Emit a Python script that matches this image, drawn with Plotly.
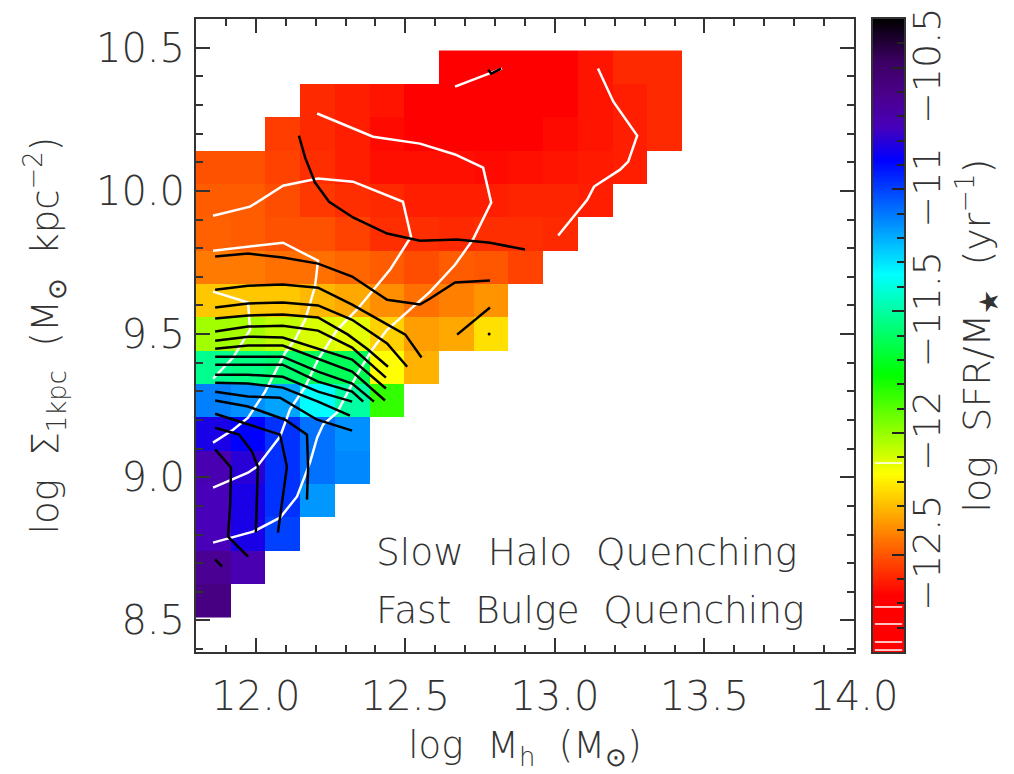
import numpy as np
import plotly.graph_objects as go

N = None
halo_mass = [11.858,11.974,12.09,12.206,12.322,12.438,12.554,12.67,12.786,12.902,13.018,13.134,13.25,13.366]
sigma_1kpc = [8.568,8.685,8.801,8.918,9.034,9.151,9.267,9.384,9.5,9.617,9.733,9.85,9.966,10.083,10.199,10.316,10.432]
ssfr = [
 [-10.58,N,N,N,N,N,N,N,N,N,N,N,N,N],
 [-10.63,-10.72,N,N,N,N,N,N,N,N,N,N,N,N],
 [-10.74,-10.83,-11.0,N,N,N,N,N,N,N,N,N,N,N],
 [-10.74,-10.83,-10.97,-11.16,N,N,N,N,N,N,N,N,N,N],
 [-10.72,-10.80,-10.97,-11.09,-11.13,N,N,N,N,N,N,N,N,N],
 [-10.83,-10.88,-10.97,-11.09,-11.145,N,N,N,N,N,N,N,N,N],
 [-11.115,-11.145,-11.18,-11.35,-11.50,-11.84,N,N,N,N,N,N,N,N],
 [-11.53,-11.55,-11.58,-11.61,-11.62,-12.17,-12.32,N,N,N,N,N,N,N],
 [-12.02,-12.03,-12.07,-12.11,-12.13,-12.26,-12.36,-12.34,-12.23,N,N,N,N,N],
 [-12.28,-12.28,-12.28,-12.31,-12.34,-12.39,-12.45,-12.42,-12.38,N,N,N,N,N],
 [-12.43,-12.43,-12.45,-12.45,-12.47,-12.49,-12.52,-12.49,-12.50,-12.54,N,N,N,N],
 [-12.48,-12.49,-12.51,-12.51,-12.54,-12.58,-12.58,-12.59,-12.58,-12.58,-12.59,N,N,N],
 [-12.49,-12.49,-12.52,-12.56,-12.58,-12.59,-12.61,-12.61,-12.61,-12.60,-12.60,-12.61,N,N],
 [-12.51,-12.51,-12.54,-12.58,-12.61,-12.64,-12.64,-12.64,-12.65,-12.64,-12.63,-12.62,-12.61,N],
 [N,N,-12.55,-12.59,-12.61,-12.65,-12.70,-12.70,-12.70,-12.70,-12.65,-12.63,-12.61,-12.59],
 [N,N,N,-12.59,-12.61,-12.63,-12.70,-12.70,-12.70,-12.70,-12.70,-12.63,-12.61,-12.59],
 [N,N,N,N,N,N,N,-12.70,-12.70,-12.70,-12.70,-12.63,-12.59,-12.59],
]

white_contours = [
 ([12.666,12.823],[10.364,10.427]),
 ([13.144,13.195,13.275,13.245,13.218,13.131,13.108,13.011],[10.427,10.312,10.193,10.102,10.074,10.015,9.969,9.844]),
 ([12.205,12.392,12.549,12.666,12.76,12.787,12.726,12.666,12.583,12.439,12.389,12.338,12.272,12.225,12.205,12.181,12.138,12.081,11.991,11.914,11.857],
  [10.27,10.189,10.165,10.127,10.081,9.959,9.83,9.742,9.648,9.515,9.446,9.358,9.226,9.184,9.138,9.051,8.933,8.859,8.81,8.789,8.772]),
 ([11.857,11.981,12.091,12.208,12.325,12.492,12.519,12.449,12.338,12.272,12.208,12.165,12.114,12.081,12.004,11.974,11.857],
  [9.913,9.945,10.018,10.043,10.032,9.962,9.84,9.725,9.585,9.515,9.411,9.316,9.236,9.142,9.037,9.016,8.964]),
 ([11.857,12.091,12.208,12.198,12.165,12.131,12.098,12.031,11.974,11.924,11.857],
  [9.791,9.819,9.756,9.666,9.55,9.481,9.435,9.299,9.208,9.166,9.121]),
 ([11.857,11.974,11.981,11.924,11.857],[9.648,9.61,9.515,9.418,9.344]),
]

black_contours = [
 ([12.777,12.787,12.82],[10.423,10.409,10.427]),
 ([12.144,12.165,12.198,12.245,12.325,12.439,12.549,12.673,12.783,12.9],[10.193,10.116,10.029,9.962,9.907,9.851,9.826,9.83,9.819,9.795]),
 ([11.864,11.974,12.09,12.208,12.322,12.439,12.549,12.583,12.666,12.783],[9.771,9.781,9.767,9.746,9.701,9.62,9.603,9.624,9.68,9.687]),
 ([12.673,12.783],[9.498,9.593]),
 ([11.864,11.974,12.09,12.208,12.322,12.439,12.5,12.554],[9.655,9.669,9.673,9.662,9.603,9.533,9.498,9.418]),
 ([11.864,11.974,12.09,12.208,12.322,12.439,12.506],[9.593,9.607,9.61,9.6,9.55,9.467,9.386]),
 ([11.864,11.974,12.09,12.208,12.308,12.375,12.442],[9.554,9.565,9.568,9.558,9.498,9.446,9.386]),
 ([11.864,11.974,12.09,12.208,12.322,12.435],[9.509,9.526,9.529,9.512,9.453,9.348]),
 ([11.864,11.974,12.09,12.208,12.322,12.435],[9.477,9.491,9.488,9.449,9.411,9.310]),
 ([11.864,11.974,12.09,12.208,12.322,12.432],[9.449,9.46,9.46,9.414,9.369,9.268]),
 ([11.864,11.974,12.09,12.208,12.322,12.395],[9.421,9.421,9.421,9.369,9.327,9.264]),
 ([11.864,11.974,12.09,12.208,12.322,12.359],[9.393,9.393,9.393,9.334,9.299,9.264]),
 ([11.864,11.974,12.09,12.208,12.322],[9.358,9.358,9.351,9.299,9.264]),
 ([11.864,11.974,12.09,12.208,12.315],[9.330,9.327,9.313,9.264,9.215]),
 ([11.864,11.974,12.081,12.138,12.205,12.322],[9.299,9.282,9.278,9.243,9.201,9.163]),
 ([11.864,11.974,12.098,12.171,12.175,12.171],[9.268,9.247,9.201,9.149,9.037,8.922]),
 ([11.864,11.974,12.081,12.104,12.074],[9.222,9.184,9.149,9.037,8.807]),
 ([11.864,11.944,11.987,12.007,12.0],[9.173,9.149,9.09,9.037,8.807]),
 ([11.864,11.917,11.914,11.907,11.974],[9.097,9.034,8.898,8.793,8.723]),
 ([11.864,11.887],[8.713,8.688]),
]
black_dot = ([12.78],[9.50])

colorbar_white_marks = [-12.124,-12.715,-12.785,-12.859,-12.892]
colorbar_ticks = [-12.5,-12.0,-11.5,-11.0,-10.5]
colorbar_labels = ["\u221212.5\u2009","\u221212\u2009","\u221211.5\u2009","\u221211\u2009","\u221210.5\u2009"]

ZMIN, ZMAX = -12.9, -10.3
stops = [(-12.9,"#ff0000"),(-12.67,"#ff0000"),(-12.17,"#ffff00"),(-11.76,"#00ff00"),(-11.35,"#00ffff"),
         (-10.88,"#0000ff"),(-10.74,"#4800b8"),(-10.6,"#4b0088"),(-10.47,"#3a0060"),(-10.3,"#000000")]
colorscale = [[(v-ZMIN)/(ZMAX-ZMIN),c] for v,c in stops]
cbar_ramp = np.arange(ZMIN, ZMAX+0.001, 0.01)

W, H = 1014, 774
FONT = "DejaVu Sans ExtraLight, DejaVu Sans Light, Open Sans"
INK = "#333333"
FRAME = "#333333"
tf = dict(family=FONT, size=40, color=INK, weight=300)
title_font = dict(family=FONT, size=37, color=INK, weight=300)

fig = go.Figure()
fig.add_trace(go.Heatmap(x=halo_mass, y=sigma_1kpc, z=ssfr, colorscale=colorscale, zmin=ZMIN, zmax=ZMAX,
                         showscale=False, zsmooth=False, hoverongaps=False))
for xs, ys in white_contours:
    fig.add_trace(go.Scatter(x=xs, y=ys, mode="lines", line=dict(color="white", width=2.5), showlegend=False))
for xs, ys in black_contours:
    fig.add_trace(go.Scatter(x=xs, y=ys, mode="lines", line=dict(color="black", width=2.5), showlegend=False))
fig.add_trace(go.Scatter(x=black_dot[0], y=black_dot[1], mode="markers", marker=dict(color="black", size=3), showlegend=False))

fig.add_trace(go.Heatmap(x=[0.5], y=cbar_ramp, z=[[v] for v in cbar_ramp], colorscale=colorscale, zmin=ZMIN, zmax=ZMAX,
                         showscale=False, xaxis="x2", yaxis="y2", zsmooth=False))
for v in colorbar_white_marks:
    fig.add_trace(go.Scatter(x=[0.06,0.94], y=[v,v], mode="lines", xaxis="x2", yaxis="y2",
                             line=dict(color="white", width=1.5), showlegend=False))

common = dict(ticks="inside", ticklen=14, tickwidth=2, tickcolor=FRAME, showline=True, linecolor=FRAME, linewidth=2,
              mirror="allticks", showgrid=False, zeroline=False, tickfont=tf, tickformat=".1f", dtick=0.5, automargin=False,
              minor=dict(ticks="inside", ticklen=7, tickwidth=2, tickcolor=FRAME, dtick=0.1, showgrid=False))
fig.update_layout(
    width=W, height=H, margin=dict(l=0,r=0,t=0,b=0), paper_bgcolor="white", plot_bgcolor="white",
    showlegend=False, font=dict(family=FONT, color=INK),
    xaxis=dict(domain=[196/W,854/W], range=[11.8,14.0], tick0=12.0, ticklabelstandoff=8,
               title=dict(text="log  M<sub>h</sub>  (M<sub>\u2299</sub>)", font=title_font, standoff=14), **common),
    yaxis=dict(domain=[1-652/H,1-19/H], range=[8.39,10.6], tick0=8.5, ticklabelstandoff=1,
               title=dict(text="log  \u03a3<sub>1kpc</sub>  (M<sub>\u2299</sub>  kpc<sup>\u22122</sup>)", font=title_font, standoff=26), **common),
    xaxis2=dict(domain=[873/W,904/W], range=[0,1], anchor="y2", showticklabels=False, ticks="", showline=True,
                linecolor=FRAME, linewidth=2, mirror=True, showgrid=False, zeroline=False, automargin=False),
    yaxis2=dict(domain=[1-652/H,1-19/H], range=[ZMIN,ZMAX], anchor="x2", side="right", tickmode="array",
                tickvals=colorbar_ticks, ticktext=colorbar_labels, tickangle=-90, ticks="inside", ticklen=12, tickwidth=2,
                tickcolor="#222222", showline=True, linecolor=FRAME, linewidth=2, mirror=True, showgrid=False, zeroline=False,
                tickfont=dict(family=FONT, size=38, color=INK, weight=300), ticklabelstandoff=-12, ticklabeloverflow="allow", automargin=False,
                minor=dict(ticks="inside", ticklen=7, tickwidth=2, tickcolor="#222222", tickvals=[round(-12.8+0.1*k,1) for k in range(25)], showgrid=False),
                title=dict(text="log  SFR/M<sub>\u2605</sub>  (yr<sup>\u22121</sup>)", font=dict(family=FONT,size=38,color=INK,weight=300), standoff=10)),
    annotations=[
        dict(x=374/W, y=1-552/H, xref="paper", yref="paper", xanchor="left", yanchor="middle", showarrow=False,
             text="Slow  Halo  Quenching", font=dict(family=FONT,size=37.5,color=INK,weight=300)),
        dict(x=374/W, y=1-610/H, xref="paper", yref="paper", xanchor="left", yanchor="middle", showarrow=False,
             text="Fast  Bulge  Quenching", font=dict(family=FONT,size=37.5,color=INK,weight=300)),
    ],
)
fig.write_html("out.html", config=dict(displayModeBar=False), post_script="document.body.style.margin='0';")
